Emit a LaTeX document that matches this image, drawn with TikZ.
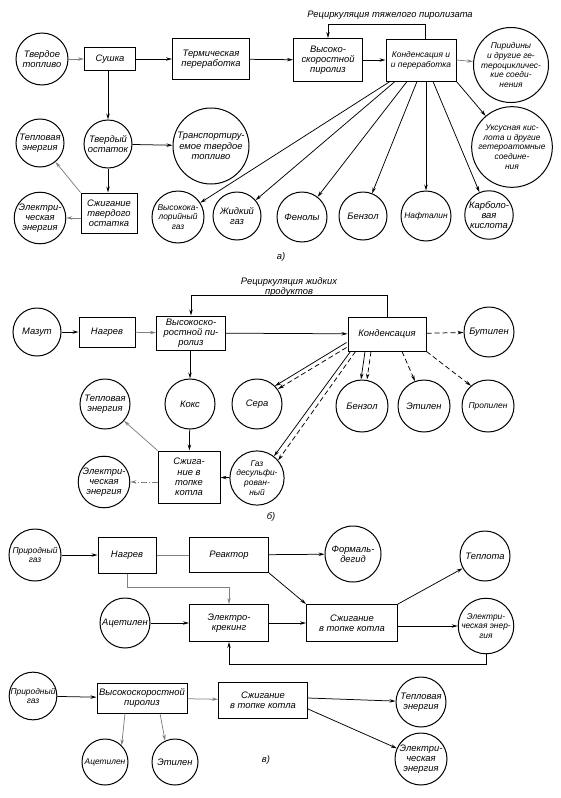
\documentclass[tikz,border=0pt]{standalone}
\usepackage{fontspec}
\setmainfont{Liberation Sans}
\usetikzlibrary{arrows.meta,calc}
\newcommand\tf{\fontsize{9.4}{10.2}\selectfont\itshape}
\newcommand\tfs{\fontsize{8.4}{9.8}\selectfont\itshape}
\begin{document}
\begin{tikzpicture}[x=1pt,y=-1pt,
 box/.style={draw,line width=1pt,inner sep=1pt,align=center,font=\tf},
 circ/.style={draw,circle,line width=1pt,inner sep=0pt,align=center,font=\tf},
 arr/.style={-{Stealth[length=6pt,width=3.4pt]},line width=0.75pt},
 ln/.style={line width=0.75pt},
 gr/.style={draw=black!50},
 dsh/.style={dash pattern=on 5pt off 3pt},
 lbl/.style={font=\tf,inner sep=0pt,align=center}]
\fill[white] (0,0) rectangle (560,798);
\useasboundingbox (0,0) rectangle (560,798);

% ---------------- part a ----------------
\node[circ,minimum size=52pt] (tt) at (42,59) {Твердое\\топливо};
\node[box,minimum width=51pt,minimum height=23pt] (sush) at (110,59) {Сушка};
\node[box,minimum width=77pt,minimum height=41pt] (term) at (211,59) {Термическая\\переработка};
\node[box,minimum width=69pt,minimum height=43pt] (vys) at (328,60) {Высоко-\\скоростной\\пиролиз};
\node[box,minimum width=70pt,minimum height=42pt,font=\tfs] (kond) at (421,60) {Конденсация и\\и переработка};
\node[circ,minimum size=64pt,font=\tfs] (pir) at (511,65) {Пиридины\\и другие ге-\\тероцикличес-\\кие соеди-\\нения};
\node[circ,minimum size=66pt,font=\tfs] (uks) at (512,147) {Уксусная кис-\\лота и другие\\гетероатомные\\соедине-\\ния};
\node[circ,minimum size=48pt] (tvo) at (108,144) {Твердый\\остаток};
\node[circ,minimum size=76pt] (tra) at (211,146) {Транспортиру-\\емое твердое\\топливо};
\node[circ,minimum size=48pt] (teploa) at (40,143) {Тепловая\\энергия};
\node[box,minimum width=56pt,minimum height=40pt] (szha) at (109,213) {Сжигание\\твердого\\остатка};
\node[circ,minimum size=48pt] (ela) at (40,218) {Электри-\\ческая\\энергия};
\node[circ,minimum size=52pt,font=\tfs] (vkg) at (178,217) {Высокока-\\лорийный\\газ};
\node[circ,minimum size=48pt] (zhg) at (237,216) {Жидкий\\газ};
\node[circ,minimum size=50pt] (fen) at (302,217) {Фенолы};
\node[circ,minimum size=48pt] (benz) at (363,216) {Бензол};
\node[circ,minimum size=50pt,font=\tfs] (naft) at (426,216) {Нафталин};
\node[circ,minimum size=48pt] (karb) at (489,215) {Карболо-\\вая\\кислота};
\node[lbl] (reca) at (390,15) {Рециркуляция тяжелого пиролизата};
\node[lbl] (la) at (281,257) {а)};

\draw[arr,gr] (tt) -- (sush);
\draw[arr] (sush) -- (term);
\draw[arr] (term) -- (vys);
\draw[arr] (vys) -- (kond);
\draw[arr] ($(kond.north)+(4,0)$) -- ++(0,-14) -| (vys.north);
\draw[arr,gr] (kond.east) -- (pir);
\draw[arr] (kond.south east) -- (uks);
\draw[arr] ($(kond.south)+(-31,0)$) -- (vkg);
\draw[arr] ($(kond.south)+(-26,0)$) -- (zhg);
\draw[arr] ($(kond.south)+(-14,0)$) -- (fen);
\draw[arr] ($(kond.south)+(-4,0)$) -- (benz);
\draw[arr] ($(kond.south)+(5,0)$) -- (naft);
\draw[arr] ($(kond.south)+(12,0)$) -- (karb);
\draw[arr] (sush.south -| tvo.north) -- (tvo.north);
\draw[arr] (tvo) -- (tra);
\draw[arr] (tvo.south) -- (szha.north -| tvo.south);
\draw[arr,gr] (szha.north west) -- (teploa);
\draw[arr,gr] (szha.west |- ela.east) -- (ela.east);

% ---------------- part b ----------------
\node[circ,minimum size=48pt] (maz) at (37,332) {Мазут};
\node[box,minimum width=56pt,minimum height=30pt] (nagb) at (107,332) {Нагрев};
\node[box,minimum width=69pt,minimum height=34pt] (vysb) at (191,333) {Высокоско-\\ростной пи-\\ролиз};
\node[box,minimum width=78pt,minimum height=34pt] (kondb) at (387,334) {Конденсация};
\node[circ,minimum size=50pt] (but) at (489,332) {Бутилен};
\node[circ,minimum size=50pt] (koks) at (190,404) {Кокс};
\node[circ,minimum size=50pt] (sera) at (257,404) {Сера};
\node[circ,minimum size=52pt] (benzb) at (362,406) {Бензол};
\node[circ,minimum size=52pt] (etil) at (424,406) {Этилен};
\node[circ,minimum size=52pt,font=\tfs] (prop) at (488,406) {Пропилен};
\node[circ,minimum size=50pt] (teplob) at (105,404) {Тепловая\\энергия};
\node[box,minimum width=62pt,minimum height=52pt] (szhb) at (189,477) {Сжига-\\ние в\\топке\\котла};
\node[circ,minimum size=48pt] (elb) at (104,482) {Электри-\\ческая\\энергия};
\node[circ,minimum size=50pt,font=\tfs] (gaz) at (257,478) {Газ\\десульфи-\\рован-\\ный};
\node[lbl] (recb) at (289,287) {Рециркуляция жидких\\продуктов};
\node[lbl] (lb) at (271,517) {б)};

\draw[arr] (maz) -- (nagb);
\draw[arr,gr] (nagb) -- (vysb);
\draw[arr] (vysb) -- (kondb);
\draw[arr] (kondb.north) -- ++(0,-21) -| (vysb.north);
\draw[arr,dsh] (kondb) -- (but);
\draw[arr] (vysb.south -| koks.north) -- (koks.north);
\draw[arr] (koks) -- (szhb);
\draw[arr,gr] (szhb.north west) -- (teplob);
\draw[arr,gr,dash pattern=on 6pt off 2pt on 1pt off 2pt] (szhb.west |- elb.east) -- (elb.east);
\draw[arr] (gaz) -- (szhb);
% double lines from condensation
\draw[arr] ($(kondb.south west)+(-1,-9)$) -- (sera.north east);
\draw[arr,dsh] ($(kondb.south west)+(-1,-4)$) -- ($(sera.north east)+(3,3)$);
\draw[arr] ($(kondb.south west)+(3,0)$) -- (gaz.52);
\draw[arr,dsh] ($(kondb.south west)+(8,0)$) -- (gaz.40);
\draw[arr] ($(kondb.south)+(-22,0)$) -- ($(benzb.north)+(-1,0)$);
\draw[arr,dsh] ($(kondb.south)+(-16,0)$) -- ($(benzb.north)+(5,0)$);
\draw[arr,dsh] ($(kondb.south)+(15,0)$) -- (etil.110);
\draw[arr,dsh] (kondb.south east) -- (prop.130);

% ---------------- part c (top) ----------------
\node[circ,minimum size=52pt,font=\tfs] (pg1) at (35,555) {Природный\\газ};
\node[box,minimum width=58pt,minimum height=36pt] (nagc) at (127,555) {Нагрев};
\node[box,minimum width=79pt,minimum height=35pt] (reak) at (229,555) {Реактор};
\node[circ,minimum size=56pt] (form) at (353,554) {Формаль-\\дегид};
\node[circ,minimum size=50pt] (acet) at (125,623) {Ацетилен};
\node[box,minimum width=79pt,minimum height=37pt] (ekr) at (229,623) {Электро-\\крекинг};
\node[box,minimum width=91pt,minimum height=37pt] (szhc) at (352,623) {Сжигание\\в топке котла};
\node[circ,minimum size=50pt] (tepl) at (485,556) {Теплота};
\node[circ,minimum size=48pt,font=\tfs] (elc) at (486,626) {Электри-\\ческая энер-\\гия};

\draw[arr] (pg1) -- (nagc);
\draw[ln,gr] (nagc) -- (reak);
\draw[arr] (reak) -- (form);
\draw[arr] (reak.south east) -- (szhc.north west);
\draw[arr,gr] (nagc.south) -- ++(0,14) -| (ekr.north);
\draw[arr] (acet) -- (ekr);
\draw[arr] (ekr) -- (szhc);
\draw[arr] (szhc.north east) -- (tepl);
\draw[arr] (szhc.east |- elc.west) -- (elc.west);
\draw[arr] (elc.south) -- ++(0,10) -| (ekr.south);

% ---------------- part c (bottom) ----------------
\node[circ,minimum size=46pt,font=\tfs] (pg2) at (33,696) {Природный\\газ};
\node[box,minimum width=90pt,minimum height=30pt] (pyr) at (142,698) {Высокоскоростной\\пиролиз};
\node[box,minimum width=89pt,minimum height=36pt] (szh2) at (263,700) {Сжигание\\в топке котла};
\node[circ,minimum size=46pt,font=\tfs] (acet2) at (105,762) {Ацетилен};
\node[circ,minimum size=46pt] (etil2) at (175,762) {Этилен};
\node[circ,minimum size=50pt] (tep2) at (421,702) {Тепловая\\энергия};
\node[circ,minimum size=52pt] (el2) at (421,759) {Электри-\\ческая\\энергия};
\node[lbl] (lc) at (266,760) {в)};

\draw[arr] (pg2) -- (pyr);
\draw[arr,gr] (pyr) -- (szh2);
\draw[arr,gr] ($(pyr.south)+(-17,0)$) -- (acet2.north east);
\draw[arr,gr] ($(pyr.south)+(18,0)$) -- (etil2.115);
\draw[arr] ($(szh2.east)+(0,-2)$) -- (tep2);
\draw[arr] ($(szh2.east)+(0,9)$) -- (el2);
\end{tikzpicture}
\end{document}
